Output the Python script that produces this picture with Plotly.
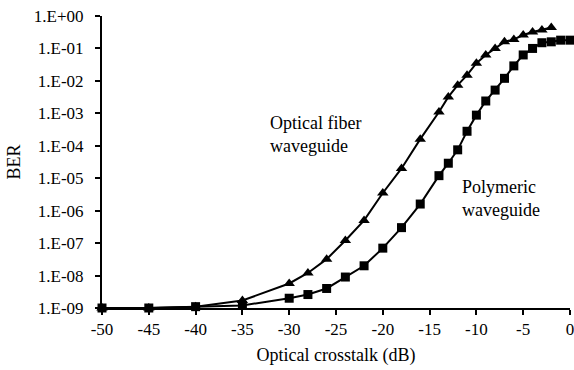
import plotly.graph_objects as go

crosstalk_fiber = [-50, -45, -40, -35, -30, -28, -26, -24, -22, -20, -18, -16, -14, -13, -12,
                   -11, -10, -9, -8, -7, -6, -5, -4, -3, -2]
ber_fiber = [1e-9, 1e-9, 1.1e-9, 1.7e-9, 5.7e-9, 1.2e-8, 3.2e-8, 1.2e-7, 5e-7, 3.5e-6, 2e-5,
             1.6e-4, 1.1e-3, 3.2e-3, 7.4e-3, 1.5e-2, 3.5e-2, 6.3e-2, 0.1, 0.16, 0.19, 0.26,
             0.32, 0.37, 0.44]

crosstalk_poly = [-50, -45, -40, -35, -30, -28, -26, -24, -22, -20, -18, -16, -14, -13, -12,
                  -11, -10, -9, -8, -7, -6, -5, -4, -3, -2, -1, 0]
ber_poly = [1e-9, 1e-9, 1.1e-9, 1.2e-9, 2e-9, 2.6e-9, 4e-9, 9e-9, 2e-8, 7e-8, 3e-7, 1.6e-6,
            1.2e-5, 2.9e-5, 7.5e-5, 2.8e-4, 8.8e-4, 2.4e-3, 5.2e-3, 1.2e-2, 2.9e-2, 6.3e-2,
            0.10, 0.15, 0.16, 0.18, 0.18]

x_ticks = [-50, -45, -40, -35, -30, -25, -20, -15, -10, -5, 0]
x_ticktext = ["-50", "-45", "-40", "-35", "-30", "-25", "-20", "-15", "-10", "-5", "0"]
y_ticks = [1, 1e-1, 1e-2, 1e-3, 1e-4, 1e-5, 1e-6, 1e-7, 1e-8, 1e-9]
y_ticktext = ["1.E+00", "1.E-01", "1.E-02", "1.E-03", "1.E-04", "1.E-05", "1.E-06",
              "1.E-07", "1.E-08", "1.E-09"]

FONT = "Liberation Serif"

fig = go.Figure()
fig.add_trace(go.Scatter(
    x=crosstalk_fiber, y=ber_fiber, mode="lines+markers",
    line=dict(color="black", width=2),
    marker=dict(symbol="triangle-up", size=10, color="black"),
    cliponaxis=False, showlegend=False))
fig.add_trace(go.Scatter(
    x=crosstalk_poly, y=ber_poly, mode="lines+markers",
    line=dict(color="black", width=2),
    marker=dict(symbol="square", size=9, color="black"),
    cliponaxis=False, showlegend=False))

fig.add_annotation(x=-32.3, y=-3.64, text="Optical fiber<br>waveguide", showarrow=False,
                   xanchor="left", yanchor="middle", align="left",
                   font=dict(family=FONT, size=18, color="black"))
fig.add_annotation(x=-11.7, y=-5.61, text="Polymeric<br>waveguide", showarrow=False,
                   xanchor="left", yanchor="middle", align="left",
                   font=dict(family=FONT, size=18, color="black"))

fig.update_layout(
    width=574, height=370,
    margin=dict(l=102, r=4, t=16, b=62, autoexpand=False),
    paper_bgcolor="white", plot_bgcolor="white",
    hovermode=False,
    font=dict(family=FONT, size=17, color="black"),
    xaxis=dict(range=[-50, 0], tickmode="array", tickvals=x_ticks, ticktext=x_ticktext,
               ticks="outside", ticklen=5, tickwidth=2, tickcolor="black",
               showline=True, linecolor="black", linewidth=2, showgrid=False, zeroline=False,
               automargin=False, ticklabeloverflow="allow",
               title=dict(text="Optical crosstalk (dB)", font=dict(family=FONT, size=18), standoff=10),
               tickfont=dict(family=FONT, size=17)),
    yaxis=dict(type="log", range=[-9, 0], tickmode="array", tickvals=y_ticks, ticktext=y_ticktext,
               ticks="outside", ticklen=5, tickwidth=2, tickcolor="black",
               showline=True, linecolor="black", linewidth=2, showgrid=False, zeroline=False,
               automargin=False, ticklabelstandoff=8, ticklabeloverflow="allow",
               title=dict(text="BER", font=dict(family=FONT, size=18), standoff=9),
               tickfont=dict(family=FONT, size=17)),
)

fig.write_html("out.html", config={"displayModeBar": False},
               post_script="document.body.style.margin='0px';document.body.style.overflow='hidden';")
